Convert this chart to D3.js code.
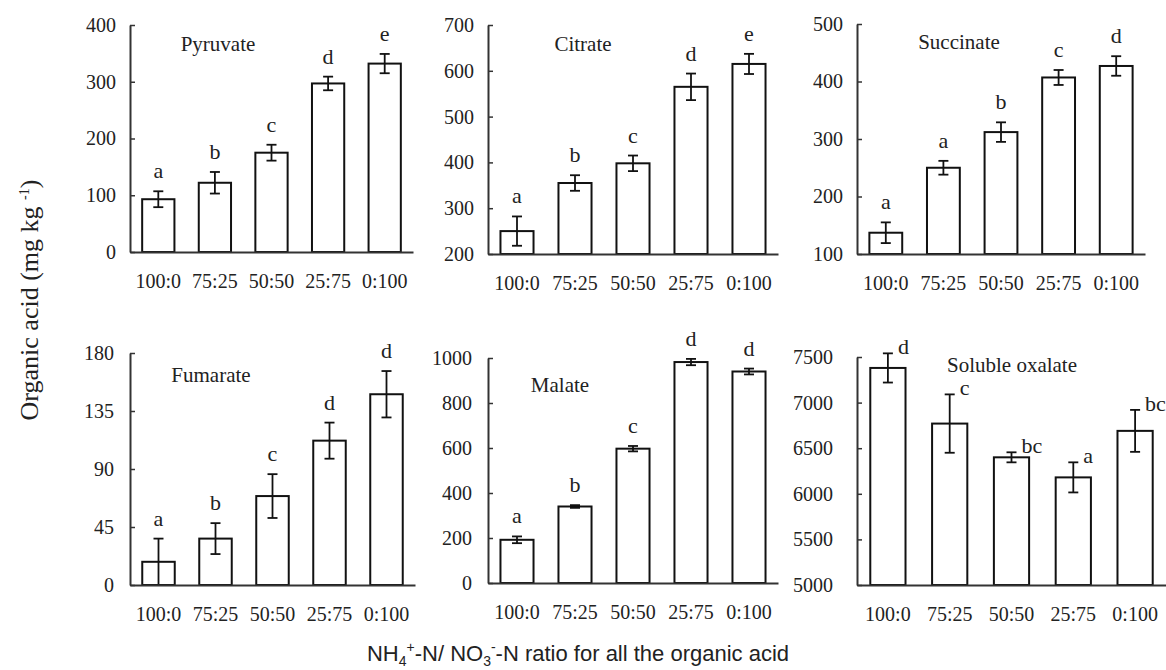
<!DOCTYPE html>
<html>
<head>
<meta charset="utf-8">
<script src="https://cdn.jsdelivr.net/npm/d3@7"></script>
<style>
  body { margin: 0; background: #fff; }
  svg text { font-family: "Liberation Serif", "Times New Roman", serif; fill: #222; }
  .xlab { font-family: "Liberation Sans", Arial, sans-serif; }
</style>
</head>
<body>
<div id="chart"></div>
<script>
const width = 1166;
const height = 670;

const ratios = ['100:0', '75:25', '50:50', '25:75', '0:100'];

const pyruvate = [93, 122, 175, 297, 332];
const pyruvateErr = [14, 19, 14, 12, 17];
const pyruvateLetters = ['a', 'b', 'c', 'd', 'e'];

const citrate = [250, 355, 398, 565, 615];
const citrateErr = [32, 17, 17, 29, 22];
const citrateLetters = ['a', 'b', 'c', 'd', 'e'];

const succinate = [137, 250, 312, 407, 427];
const succinateErr = [18, 12, 17, 13, 17];
const succinateLetters = ['a', 'a', 'b', 'c', 'd'];

const fumarate = [18, 36, 69, 112, 148];
const fumarateErr = [18, 12, 17, 14, 18];
const fumarateLetters = ['a', 'b', 'c', 'd', 'd'];

const malate = [192, 340, 597, 982, 940];
const malateErr = [15, 6, 12, 14, 13];
const malateLetters = ['a', 'b', 'c', 'd', 'd'];

const oxalate = [7380, 6770, 6400, 6180, 6690];
const oxalateErr = [160, 320, 55, 165, 230];
const oxalateLetters = ['d', 'c', 'bc', 'a', 'bc'];

const panels = [
    { name: 'Pyruvate', values: pyruvate, err: pyruvateErr, letters: pyruvateLetters, ticks: [0, 100, 200, 300, 400] },
    { name: 'Citrate', values: citrate, err: citrateErr, letters: citrateLetters, ticks: [200, 300, 400, 500, 600, 700] },
    { name: 'Succinate', values: succinate, err: succinateErr, letters: succinateLetters, ticks: [100, 200, 300, 400, 500] },
    { name: 'Fumarate', values: fumarate, err: fumarateErr, letters: fumarateLetters, ticks: [0, 45, 90, 135, 180] },
    { name: 'Malate', values: malate, err: malateErr, letters: malateLetters, ticks: [0, 200, 400, 600, 800, 1000] },
    { name: 'Soluble oxalate', values: oxalate, err: oxalateErr, letters: oxalateLetters, ticks: [5000, 5500, 6000, 6500, 7000, 7500] }
];

// where each small chart sits on the page
const layout = [
    { left: 130, right: 413, top: 25, bottom: 252, titleX: 218, titleY: 51, gap: 14 },
    { left: 488, right: 778, top: 25, bottom: 254, titleX: 583, titleY: 51, gap: 14 },
    { left: 857, right: 1145, top: 24, bottom: 254, titleX: 959, titleY: 49, gap: 14 },
    { left: 130, right: 415, top: 353, bottom: 585, titleX: 211, titleY: 382, gap: 16 },
    { left: 488, right: 778, top: 358, bottom: 583, titleX: 560, titleY: 392, gap: 16 },
    { left: 857, right: 1166, top: 357, bottom: 585, titleX: 1012, titleY: 372, gap: 24, letterRight: true }
];

const svg = d3.select('#chart')
    .append('svg')
    .attr('width', width)
    .attr('height', height);

panels.forEach((p, i) => {
    const box = layout[i];
    const g = svg.append('g');

    const x = d3.scaleBand()
        .domain(ratios)
        .range([box.left, box.right])
        .paddingInner(0.43)
        .paddingOuter(0.215);

    const y = d3.scaleLinear()
        .domain(d3.extent(p.ticks))
        .range([box.bottom, box.top]);

    // bars
    g.selectAll('rect')
        .data(p.values)
        .join('rect')
        .attr('x', (d, j) => x(ratios[j]))
        .attr('y', (d) => y(d))
        .attr('width', x.bandwidth())
        .attr('height', (d) => y.range()[0] - y(d))
        .attr('fill', '#fff')
        .attr('stroke', '#111')
        .attr('stroke-width', 2);

    // error bars
    const cx = (j) => x(ratios[j]) + x.bandwidth() / 2;
    const eb = g.append('g')
        .attr('stroke', '#111')
        .attr('stroke-width', 1.8);
    p.values.forEach((v, j) => {
        const lo = y(v - p.err[j]);
        const hi = y(v + p.err[j]);
        eb.append('line').attr('x1', cx(j)).attr('x2', cx(j)).attr('y1', lo).attr('y2', hi);
        eb.append('line').attr('x1', cx(j) - 5).attr('x2', cx(j) + 5).attr('y1', lo).attr('y2', lo);
        eb.append('line').attr('x1', cx(j) - 5).attr('x2', cx(j) + 5).attr('y1', hi).attr('y2', hi);
    });

    // significance letters
    g.selectAll('text.letter')
        .data(p.letters)
        .join('text')
        .attr('class', 'letter')
        .attr('x', (d, j) => box.letterRight ? cx(j) + 10 : cx(j))
        .attr('y', (d, j) => y(p.values[j] + p.err[j]) + (box.letterRight ? 1 : -13))
        .attr('text-anchor', box.letterRight ? 'start' : 'middle')
        .style('font-size', '22px')
        .text((d) => d);

    // y axis
    const yAxis = g.append('g')
        .attr('transform', `translate(${box.left},0)`)
        .call(d3.axisLeft(y).tickValues(p.ticks).tickFormat(d3.format('d'))
            .tickSizeInner(-5).tickSizeOuter(0).tickPadding(box.gap));
    yAxis.select('.domain').attr('stroke', '#333').attr('stroke-width', 2);
    yAxis.selectAll('.tick line').attr('stroke', '#333').attr('stroke-width', 1.5);
    yAxis.selectAll('text').style('font-size', '20px').attr('fill', '#222');

    // x axis
    const xAxis = g.append('g')
        .attr('transform', `translate(0,${box.bottom})`)
        .call(d3.axisBottom(x).tickSize(0).tickSizeOuter(0).tickPadding(22));
    xAxis.select('.domain').attr('stroke', '#333').attr('stroke-width', 2);
    xAxis.selectAll('text').style('font-size', '20px').attr('fill', '#222');

    g.append('text')
        .attr('x', box.titleX)
        .attr('y', box.titleY)
        .attr('text-anchor', 'middle')
        .style('font-size', '21px')
        .text(p.name);
});

// y axis title
const yt = svg.append('text')
    .attr('transform', 'translate(38,300) rotate(-90)')
    .attr('text-anchor', 'middle')
    .style('font-size', '26px');
yt.append('tspan').text('Organic acid (mg kg ');
yt.append('tspan').attr('dy', -9).style('font-size', '14px').text('-1');
yt.append('tspan').attr('dy', 9).text(')');

// x axis title
const xt = svg.append('text')
    .attr('class', 'xlab')
    .attr('x', 578)
    .attr('y', 661)
    .attr('text-anchor', 'middle')
    .style('font-size', '22px');
xt.append('tspan').text('NH');
xt.append('tspan').attr('dy', 5).style('font-size', '14px').text('4');
xt.append('tspan').attr('dy', -14).style('font-size', '14px').text('+');
xt.append('tspan').attr('dy', 9).text('-N/ NO');
xt.append('tspan').attr('dy', 5).style('font-size', '14px').text('3');
xt.append('tspan').attr('dy', -14).style('font-size', '14px').text('-');
xt.append('tspan').attr('dy', 9).text('-N ratio for all the organic acid');
</script>
</body>
</html>
